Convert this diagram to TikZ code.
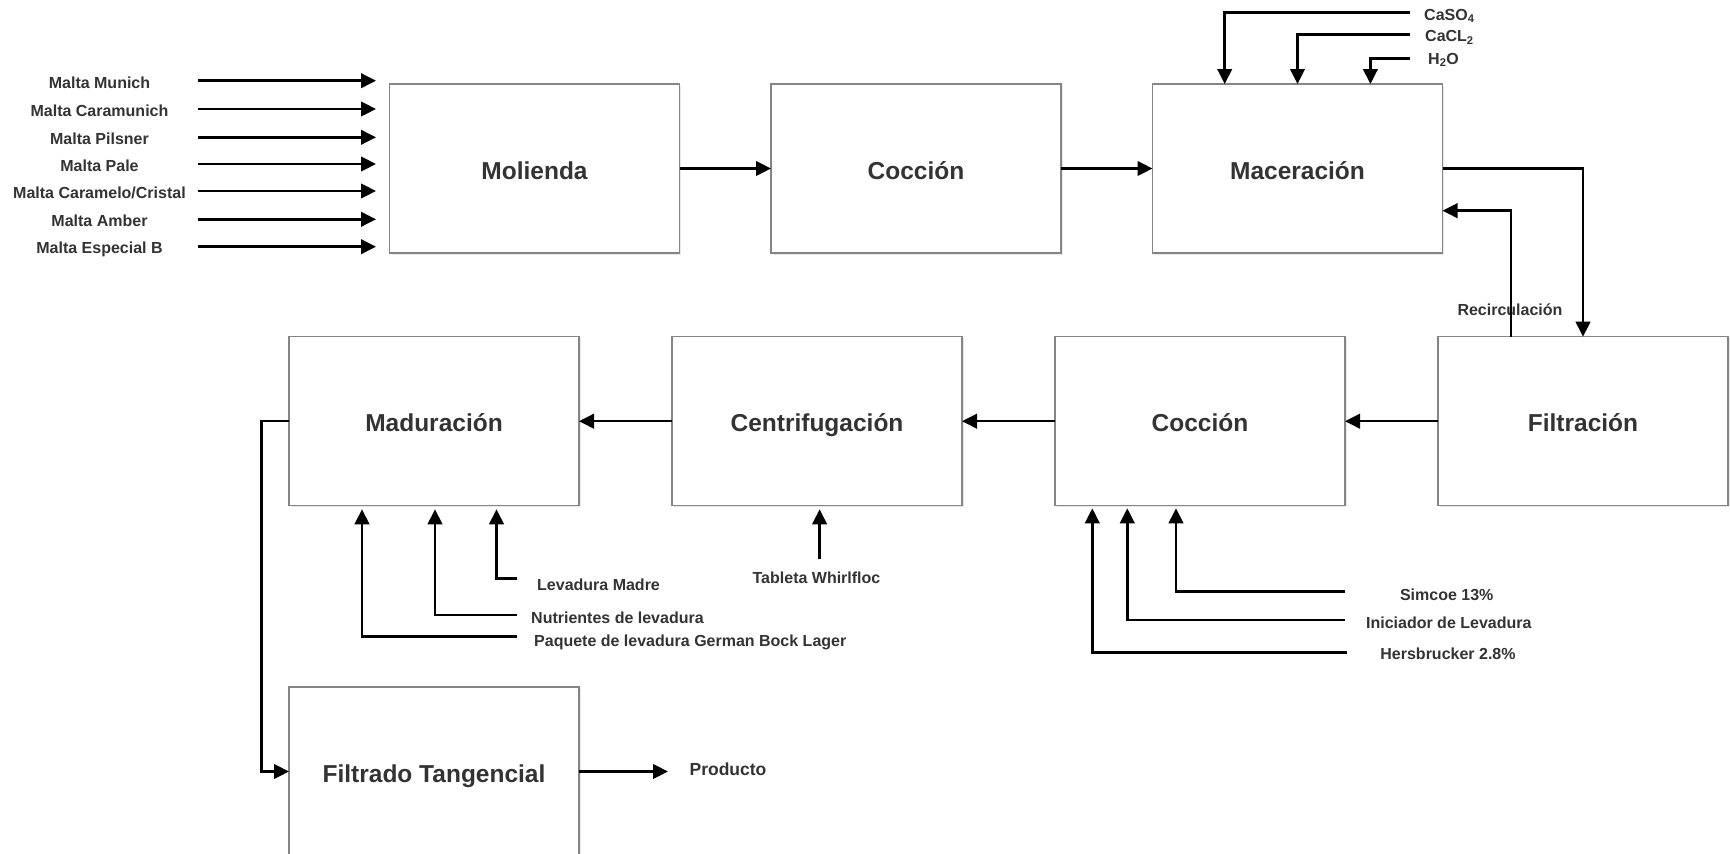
\documentclass[tikz,border=0pt]{standalone}
\usepackage{fontspec}
\setmainfont{Liberation Sans}
\usetikzlibrary{arrows.meta,shadows}
\definecolor{tg}{HTML}{333333}
\definecolor{bordergray}{HTML}{858585}
\begin{document}
\begin{tikzpicture}[x=1pt,y=-1pt,
  box/.style={draw=bordergray, line width=1.2pt, fill=white,
    minimum width=290pt, minimum height=169pt, inner sep=0pt, outer sep=0pt,
    font=\bfseries\fontsize{24.5}{29}\selectfont, text=tg,
    text height=21.5pt, text depth=0pt,
    drop shadow={opacity=0.18, shadow xshift=1.5pt, shadow yshift=-1.5pt}},
  lbl/.style={font=\bfseries\fontsize{16}{19}\selectfont, text=tg,
    inner sep=0pt, text height=11.5pt, text depth=0pt},
  arr/.style={line width=2.5pt, -{Triangle[length=15pt,width=14.5pt]}},
  ln/.style={line width=2.5pt}]
\useasboundingbox (0,0) rectangle (1730,854);
\fill[white] (0,0) rectangle (1730,854);
\clip (0,0) rectangle (1730,854);

% process boxes
\node[box] (mol)  at (534.5,168.5) {Molienda};
\node[box] (coc1) at (916,168.5)   {Cocción};
\node[box] (mac)  at (1297.5,168.5){Maceración};
\node[box] (fil)  at (1583,421.2)  {Filtración};
\node[box] (coc2) at (1200,421.2)  {Cocción};
\node[box] (cen)  at (817,421.2)   {Centrifugación};
\node[box] (mad)  at (434,421.2)   {Maduración};
\node[box] (ft)   at (434,771.5)   {Filtrado Tangencial};

% malt inputs
\node[lbl] (m1) at (99.5,82.7)  {Malta Munich};
\node[lbl] (m2) at (99.5,110.5) {Malta Caramunich};
\node[lbl] (m3) at (99.5,138.8) {Malta Pilsner};
\node[lbl] (m4) at (99.5,165.5) {Malta Pale};
\node[lbl] (m5) at (99.5,192.5) {Malta Caramelo/Cristal};
\node[lbl] (m6) at (99.5,220.8) {Malta Amber};
\node[lbl] (m7) at (99.5,248.2) {Malta Especial B};
\coordinate (ms1) at (197.7,80.7);  \coordinate (me1) at (376,80.7);
\coordinate (ms2) at (197.7,109);   \coordinate (me2) at (376,109);
\coordinate (ms3) at (197.7,137.3); \coordinate (me3) at (376,137.3);
\coordinate (ms4) at (197.7,164);   \coordinate (me4) at (376,164);
\coordinate (ms5) at (197.7,191);   \coordinate (me5) at (376,191);
\coordinate (ms6) at (197.7,219.3); \coordinate (me6) at (376,219.3);
\coordinate (ms7) at (197.7,246.7); \coordinate (me7) at (376,246.7);
\foreach \i in {1,...,7} { \draw[arr] (ms\i) -- (me\i); }

% main flow top row
\draw[arr] (mol) -- (coc1);
\draw[arr] (coc1) -- (mac);
\draw[arr] (mac.east) -| (fil.north);

% salts / water
\node[lbl, anchor=west] (caso) at (1424,14.3) {CaSO\textsubscript{4}};
\node[lbl, anchor=west] (cacl) at (1425,36)   {CaCL\textsubscript{2}};
\node[lbl, anchor=west] (agua) at (1428,58.3) {H\textsubscript{2}O};
\coordinate (s1) at (1410,12.7);
\coordinate (s2) at (1410,34.3);
\coordinate (s3) at (1410,58.3);
\draw[arr] (s1) -| ([xshift=-72.8pt]mac.north);
\draw[arr] (s2) -| (mac.north);
\draw[arr] (s3) -| ([xshift=72.9pt]mac.north);

% recirculation
\node[lbl] (recl) at (1510,310) {Recirculación};
\draw[arr] ([xshift=-72pt]fil.north) |- ([yshift=-42.2pt]mac.east);

% bottom row
\draw[arr] (fil) -- (coc2);
\draw[arr] (coc2) -- (cen);
\draw[arr] (cen) -- (mad);
\draw[arr] (mad.west) -- ++(-27.7,0) |- (ft.west);

% hops etc. into Coccion
\node[lbl] (sim) at (1446.7,595)   {Simcoe 13\%};
\node[lbl] (ini) at (1448.8,622.7) {Iniciador de Levadura};
\node[lbl] (her) at (1448,653.3)   {Hersbrucker 2.8\%};
\coordinate (h1) at (1345,591.7);
\coordinate (h2) at (1345,620);
\coordinate (h3) at (1347,652.3);
\draw[arr] (h1) -| ([xshift=-24pt,yshift=-2.6pt]coc2.south);
\draw[arr] (h2) -| ([xshift=-72.7pt,yshift=-2.6pt]coc2.south);
\draw[arr] (h3) -| ([xshift=-107.7pt,yshift=-2.6pt]coc2.south);

% whirlfloc
\node[lbl] (wf) at (816.5,577.3) {Tableta Whirlfloc};
\coordinate (w1) at (819.6,559.3);
\draw[arr] (w1) -- ([xshift=2.6pt,yshift=-3.6pt]cen.south);

% yeast into Maduracion
\node[lbl, anchor=west] (lm) at (537,584.3) {Levadura Madre};
\node[lbl, anchor=west] (nl) at (531,617.3) {Nutrientes de levadura};
\node[lbl, anchor=west] (pq) at (534,640.7) {Paquete de levadura German Bock Lager};
\coordinate (y1) at (517,578.7);
\coordinate (y2) at (517,615);
\coordinate (y3) at (517,636.7);
\draw[arr] (y1) -| ([xshift=62.5pt,yshift=-3.6pt]mad.south);
\draw[arr] (y2) -| ([xshift=1pt,yshift=-3.6pt]mad.south);
\draw[arr] (y3) -| ([xshift=-72pt,yshift=-3.6pt]mad.south);

% product
\node[lbl, anchor=west, font=\bfseries\fontsize{17.5}{21}\selectfont, text height=12.5pt] (prod) at (689.4,769) {Producto};
\coordinate (pt) at (668,771.5);
\draw[arr] (ft.east) -- (pt);
\end{tikzpicture}
\end{document}
